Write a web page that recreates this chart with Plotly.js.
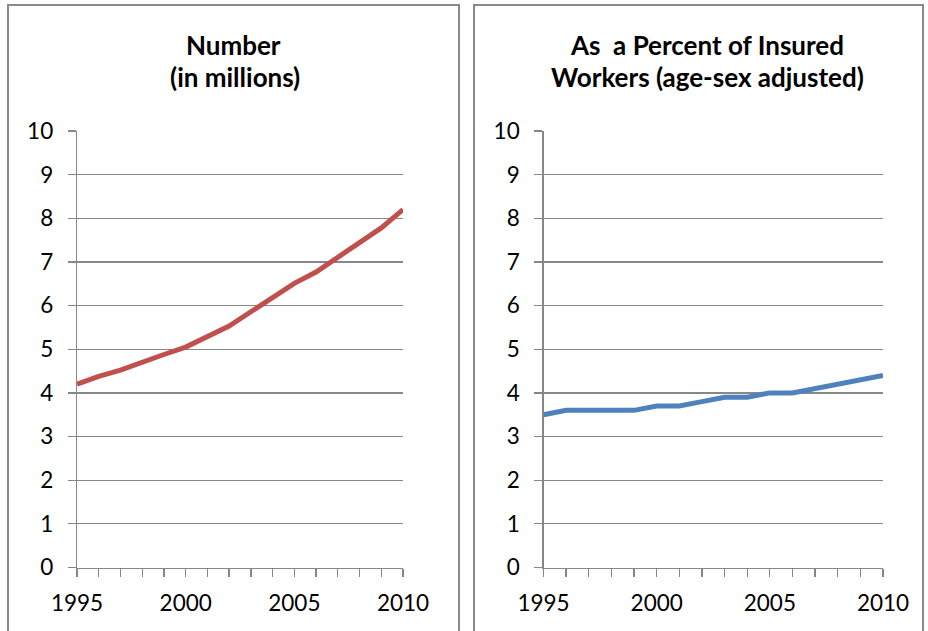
<!DOCTYPE html>
<html>
<head>
<meta charset="utf-8">
<script src="https://cdn.plot.ly/plotly-3.0.1.min.js"></script>
<style>html,body{margin:0;padding:0;background:#fff;}#chart{width:928px;height:631px;}</style>
</head>
<body>
<div id="chart"></div>
<script>
const years = [1995,1996,1997,1998,1999,2000,2001,2002,2003,2004,2005,2006,2007,2008,2009,2010];
const numberMillions = [4.2,4.38,4.52,4.71,4.88,5.05,5.28,5.53,5.86,6.2,6.51,6.77,7.1,7.44,7.78,8.2];
const percentInsured = [3.5,3.6,3.6,3.6,3.6,3.7,3.7,3.8,3.9,3.9,4.0,4.0,4.1,4.2,4.3,4.4];
const yTicks = [0,1,2,3,4,5,6,7,8,9,10];
const xLabelYears = [1995,2000,2005,2010];
const leftTitle = ["Number", "(in millions)"];
const rightTitle = ["As&nbsp;&nbsp;a Percent of Insured", "Workers (age-sex adjusted)"];

const W = 928, H = 631;
const px = v => v / W;
const py = v => (H - v) / H;
const gray = '#878787';
const xTickText = years.map(y => xLabelYears.includes(y) ? String(y) : '');

function xAxis(domain, anchor) {
  return {
    domain: domain, anchor: anchor, range: [1995, 2010],
    tickmode: 'array', tickvals: years, ticktext: xTickText,
    ticks: 'outside', ticklen: 8, tickwidth: 1.3, tickcolor: gray,
    showline: true, linecolor: gray, linewidth: 1.3,
    showgrid: false, zeroline: false, fixedrange: true,
    tickfont: {family: 'Lato, sans-serif', size: 22.5, color: '#000'},
    ticklabelstandoff: 7
  };
}
function yAxis(domain, anchor) {
  return {
    domain: domain, anchor: anchor, range: [0, 10],
    tickmode: 'array', tickvals: yTicks,
    ticks: 'outside', ticklen: 8, tickwidth: 1.3, tickcolor: gray,
    showline: true, linecolor: gray, linewidth: 1.3,
    showgrid: true, gridcolor: gray, gridwidth: 1.3, zeroline: false, fixedrange: true,
    tickfont: {family: 'Lato, sans-serif', size: 22.5, color: '#000'},
    ticklabelstandoff: 10
  };
}

const yDom = [py(567.5), py(131)];
const data = [
  {x: years, y: numberMillions, xaxis: 'x', yaxis: 'y', type: 'scatter', mode: 'lines',
   line: {color: '#C0504D', width: 5}, hoverinfo: 'skip'},
  {x: years, y: percentInsured, xaxis: 'x2', yaxis: 'y2', type: 'scatter', mode: 'lines',
   line: {color: '#4F81BD', width: 5}, hoverinfo: 'skip'}
];

const titleFont = {family: 'Lato, sans-serif', size: 26, color: '#000', weight: 'bold'};
function ann(text, xc, ycPix) {
  return {text: '<b>' + text + '</b>', xref: 'paper', yref: 'paper', x: px(xc), y: py(ycPix),
          xanchor: 'center', yanchor: 'middle', showarrow: false, font: titleFont};
}

const layout = {
  width: W, height: H, margin: {l: 0, r: 0, t: 0, b: 0},
  paper_bgcolor: '#fff', plot_bgcolor: 'rgba(0,0,0,0)', showlegend: false,
  xaxis: xAxis([px(77), px(403)], 'y'),
  yaxis: yAxis(yDom, 'x'),
  xaxis2: xAxis([px(543.5), px(883)], 'y2'),
  yaxis2: yAxis(yDom, 'x2'),
  annotations: [
    ann(leftTitle[0], 233, 45),
    ann(leftTitle[1], 235, 77),
    ann(rightTitle[0], 707, 45),
    ann(rightTitle[1], 707, 77)
  ],
  shapes: [
    {type: 'rect', xref: 'paper', yref: 'paper', x0: px(8), x1: px(459), y0: -0.1, y1: py(5),
     line: {color: '#8a8a8a', width: 2}, layer: 'below'},
    {type: 'rect', xref: 'paper', yref: 'paper', x0: px(474), x1: px(923), y0: -0.1, y1: py(5),
     line: {color: '#8a8a8a', width: 2}, layer: 'below'}
  ]
};

Plotly.newPlot('chart', data, layout, {displayModeBar: false, staticPlot: true});
</script>
</body>
</html>
